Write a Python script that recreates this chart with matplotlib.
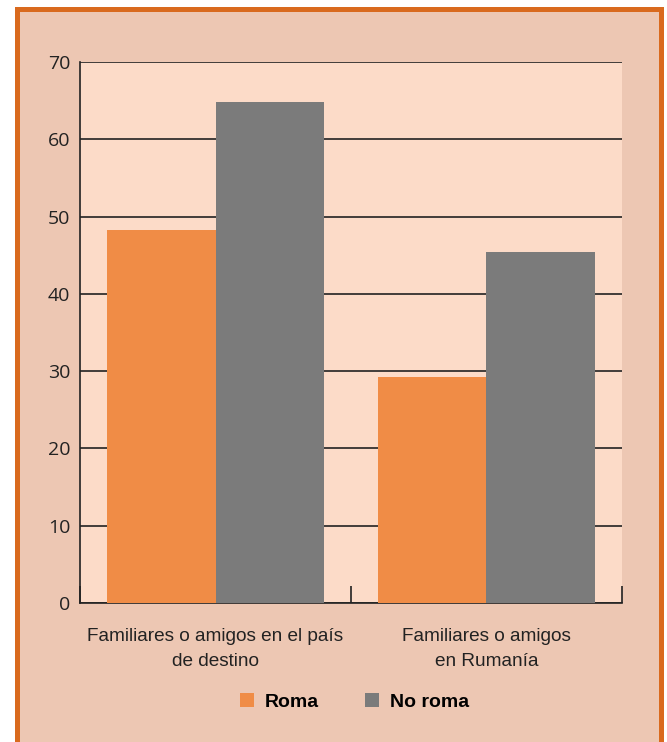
import matplotlib.pyplot as plt
from matplotlib.patches import Rectangle
import numpy as np

categories = ['Familiares o amigos en el país\nde destino', 'Familiares o amigos\nen Rumanía']
roma = [48.3, 29.2]
no_roma = [64.8, 45.4]
series_names = ['Roma', 'No roma']

fig = plt.figure(figsize=(6.67, 7.42), dpi=100, facecolor='white')

# panel with orange border (no bottom edge visible)
fig.patches.append(Rectangle((16.5 / 667, -0.02), 644.5 / 667, 1 - 8.5 / 742 + 0.02,
                             transform=fig.transFigure, facecolor='#EDC7B3',
                             edgecolor='#D96A1E', linewidth=3.6, zorder=-10))

ax = fig.add_axes([80 / 667, 1 - 603 / 742, 542 / 667, 541 / 742])
ax.set_facecolor('#FCDBC8')

x = np.arange(len(categories))
w = 0.4
ax.bar(x - w / 2, roma, w, color='#F08C46', label=series_names[0], zorder=3)
ax.bar(x + w / 2, no_roma, w, color='#7B7B7B', label=series_names[1], zorder=3)

ax.set_xlim(-0.5, 1.5)
ax.set_ylim(0, 70)
ax.set_yticks(np.arange(0, 71, 10))
ax.yaxis.grid(True, color='#222222', linewidth=1.2, zorder=1)
ax.set_axisbelow(True)

ax.set_xticks([-0.5, 0.5, 1.5])
ax.set_xticklabels([])
ax.set_xticks(x, minor=True)
ax.set_xticklabels(categories, minor=True, fontsize=13.7, linespacing=1.6,
                   family=['Liberation Sans Narrow', 'Liberation Sans', 'DejaVu Sans'],
                   color='#222222')
ax.tick_params(axis='x', which='major', direction='in', length=12, width=1.2, color='#222222')
ax.tick_params(axis='x', which='minor', length=0, pad=18)
ax.tick_params(axis='y', length=0, pad=7, labelsize=14, labelcolor='#222222')
for lab in ax.get_yticklabels():
    lab.set_family(['Open Sans', 'DejaVu Sans'])

for s in ['top', 'right']:
    ax.spines[s].set_visible(False)
for s in ['left', 'bottom']:
    ax.spines[s].set_color('#222222')
    ax.spines[s].set_linewidth(1.2)

leg = fig.legend(loc='center', bbox_to_anchor=(354.5 / 667, 1 - 702 / 742), ncol=2, frameon=False,
                 handlelength=0.72, handleheight=0.72, handletextpad=0.55, columnspacing=2.35,
                 prop={'family': ['Liberation Sans Narrow', 'Liberation Sans', 'DejaVu Sans'],
                       'weight': 'bold', 'size': 14})

fig.savefig('out.png', dpi=100, facecolor=fig.get_facecolor())
